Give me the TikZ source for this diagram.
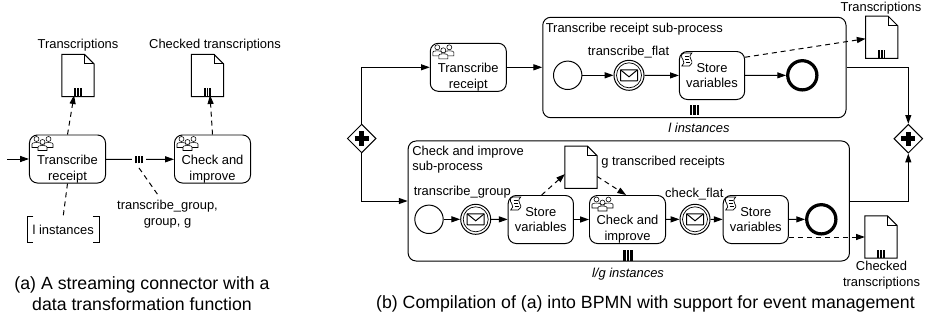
\documentclass[tikz,border=0pt]{standalone}
\usepackage{fontspec}
\setmainfont{Liberation Sans}
\usetikzlibrary{arrows.meta,shapes.geometric}

\newcommand{\mibars}[2][1.45pt]{\rule{#1}{#2}\hspace{0.7pt}\rule{#1}{#2}\hspace{0.7pt}\rule{#1}{#2}}
\newcommand{\iconline}{\rule{0pt}{9.7pt}}
\newcommand{\personicon}[2]{\draw[fill=white,line width=0.4pt] (#1-4.5,#2+8.5) -- (#1-4.5,#2+5) .. controls (#1-4.5,#2+4) and (#1-3,#2+3.5) .. (#1,#2+3.5) .. controls (#1+3,#2+3.5) and (#1+4.5,#2+4) .. (#1+4.5,#2+5) -- (#1+4.5,#2+8.5) -- cycle;
	\draw[fill=white,line width=0.4pt] (#1,#2) circle (2.5);}

\tikzset{
	every node/.style={font=\fontsize{9.2}{11.2}\selectfont},
	line/.style={line width=0.7pt},
	flow/.style={line,-{Triangle[length=2.2mm,width=1.5mm]}},
	msg/.style={flow,dash pattern=on 1.25mm off 1mm},
	assoc/.style={line,dash pattern=on 1.25mm off 1mm},
	task/.style={shape=rectangle,draw=black,line,rounded corners=0.2cm,align=center,inner sep=0pt,minimum width=1.9cm,minimum height=1.2cm},
	storebox/.style={task,minimum width=1.63cm},
	subproc/.style={shape=rectangle,draw=black,line,rounded corners=0.2cm,inner sep=0pt},
	startev/.style={shape=circle,draw=black,line,inner sep=0pt,minimum size=0.71cm},
	catchev/.style={startev,minimum size=0.75cm},
	endev/.style={startev,line width=2.3pt,minimum size=0.73cm},
	gateway/.style={shape=diamond,draw=black,line,fill=white,inner sep=0pt,minimum size=0.72cm},
	docnode/.style={shape=rectangle,inner sep=0pt,minimum width=0.79cm,minimum height=1.04cm},
	caption/.style={font=\fontsize{12.6}{15}\selectfont,align=center},
}

\begin{document}
\begin{tikzpicture}[x=0.025cm,y=-0.025cm]
	\useasboundingbox (0,0) rectangle (925,323);

	% (a)
	\coordinate (inflow) at (7,159);
	\node[task] (taska) at (67.5,159) {\iconline\\Transcribe\\receipt};
	\node[task] (taskb) at (212.5,159) {\iconline\\Check and\\improve};
	\node[inner xsep=2pt,inner ysep=0pt] (mia) at (139,159.5) {\mibars{5.6pt}};
	\node[docnode] (doca) at (78,75.5) {};
	\node[docnode] (docb) at (207.5,75.5) {};
	\node (labela) at (78,45.5) {Transcriptions};
	\node (labelb) at (215,45.5) {Checked transcriptions};
	\node[align=center] (labelg) at (167.5,214) {transcribe\_group,\\group, g};
	\coordinate (labelgtop) at (158,195);
	\node[shape=rectangle,inner sep=0pt,minimum width=1.79cm,minimum height=0.65cm] (annot) at (63.2,229.5) {l instances};
	\node[caption] (capa) at (142,294) {(a) A streaming connector with a\\data transformation function};

	\path[flow] (inflow) edge (taska);
	\path[line] (taska) edge (mia);
	\path[flow] (mia) edge (taskb);
	\path[assoc] ([yshift=-3pt]mia.south) edge (labelgtop);
	\path[assoc] (taska.south) edge (annot.north);
	\path[msg] (taska.north) edge ([xshift=-2.8pt,yshift=1pt]doca.south);
	\path[msg] (taskb.north) edge ([xshift=1.8pt,yshift=1pt]docb.south);
	\draw[line] ([xshift=4.5pt]annot.north west) -- (annot.north west) -- (annot.south west) -- ([xshift=4.5pt]annot.south west);
	\draw[line] ([xshift=-4.5pt]annot.north east) -- (annot.north east) -- (annot.south east) -- ([xshift=-4.5pt]annot.south east);

	% (b)
	\node[gateway] (gwa) at (361.7,138.5) {};
	\node[gateway] (gwb) at (908.3,138.7) {};
	\node[task] (taskc) at (468.3,67.3) {\iconline\\Transcribe\\receipt};

	\node[subproc,minimum width=7.58cm,minimum height=2.51cm] (suba) at (694.4,67.5) {};
	\node[anchor=west,inner sep=0pt] (titlea) at (545.5,29) {Transcribe receipt sub-process};
	\node[startev] (starta) at (567.7,75.3) {};
	\node[catchev] (catcha) at (629,75.3) {};
	\node (flata) at (628.5,52.5) {transcribe\_flat};
	\node[storebox] (storea) at (712,75.5) {Store\\variables};
	\node[endev] (enda) at (802.3,75.3) {};
	\node[inner sep=0pt] (mib) at (694.5,110) {\mibars[1.7pt]{7.1pt}};
	\node (insta) at (699,128) {\textit{l instances}};
	\node[docnode] (docc) at (881.7,37.3) {};
	\node (labelc) at (881,8) {Transcriptions};

	\node[subproc,minimum width=11.03cm,minimum height=3cm] (subb) at (628.8,201) {};
	\node[anchor=north west,align=left,inner sep=0pt] (titleb) at (412,145.5) {Check and improve\\sub-process};
	\node[startev] (startb) at (429,219.3) {};
	\node[catchev] (catchb) at (475.7,219.3) {};
	\node (groupb) at (462.3,192.5) {transcribe\_group};
	\node[storebox] (storeb) at (540.8,219.5) {Store\\variables};
	\node[docnode] (docd) at (581,167.3) {};
	\node[anchor=west,inner sep=0pt] (labeld) at (601,162) {g transcribed receipts};
	\node[task] (taskd) at (627.5,219.5) {\iconline\\Check and\\improve};
	\node[catchev] (catchc) at (695,219.3) {};
	\node (flatb) at (694.3,194) {check\_flat};
	\node[storebox] (storec) at (755.8,219.5) {Store\\variables};
	\node[endev] (endb) at (821.3,219.3) {};
	\node[inner sep=0pt] (mic) at (628,255.5) {\mibars[1.7pt]{7.6pt}};
	\node (instb) at (628,274) {\textit{l/g instances}};
	\node[docnode] (doce) at (881,237) {};
	\node[align=center] (labele) at (881.5,275) {Checked\\transcriptions};
	\node[caption] (capb) at (645.5,304) {(b) Compilation of (a) into BPMN with support for event management};

	\draw[flow] (gwa) |- (taskc);
	\draw[flow] (gwa) |- (subb);
	\draw[flow] (suba) -| (gwb);
	\draw[flow] (subb) -| (gwb);
	\path[flow] (taskc) edge (suba.west |- taskc);
	\path[flow] (starta) edge (catcha);
	\path[flow] (catcha) edge (storea);
	\path[flow] (storea) edge (enda);
	\path[msg] ([yshift=13pt]storea.east) edge ([yshift=-1pt]docc.west);
	\path[flow] (startb) edge (catchb);
	\path[flow] (catchb) edge (storeb);
	\path[flow] (storeb) edge (taskd);
	\path[flow] (taskd) edge (catchc);
	\path[flow] (catchc) edge (storec);
	\path[flow] (storec) edge (endb);
	\path[msg] ([xshift=0.6pt]storeb.north) edge ([yshift=-4.8pt]docd.west);
	\path[msg] ([yshift=-6.5pt]docd.east) edge ([xshift=-1pt]taskd.north);
	\path[msg] (storec.east |- doce.west) edge (doce.west);

	% documents
	\foreach \d in {doca,docb,docc,docd,doce} {
		\draw[line,fill=white] (\d.south west) -- (\d.north west) -- ([xshift=-6.8pt]\d.north east) -- ([yshift=-6.8pt]\d.north east) -- (\d.south east) -- cycle;
		\draw[line] ([xshift=-6.8pt]\d.north east) -- ([xshift=-6.8pt,yshift=-6.8pt]\d.north east) -- ([yshift=-6.8pt]\d.north east);
	}
	\foreach \d in {doca,docb,docc,doce} {
		\node[anchor=south,inner sep=0pt] (\d-mi) at (\d.south) {\mibars[1.2pt]{5.6pt}};
	}

	% user task icons
	\foreach \t in {taska,taskb,taskc,taskd} {
		\begin{scope}[shift={(\t.north west)}]
			\personicon{7.5}{4.5}
			\personicon{19.5}{4.5}
			\personicon{13.5}{7.5}
		\end{scope}
	}

	% script task icons
	\foreach \t in {storea,storeb,storec} {
		\begin{scope}[shift={(\t.north west)},line width=0.5pt]
			\draw (5,2) -- (13,2) .. controls (10.5,5) and (10.5,6) .. (12,8.5) .. controls (14,11) and (13,14) .. (10.5,15) -- (3,15) .. controls (5.5,13) and (5.5,11) .. (4,8.5) .. controls (2,6) and (2,3) .. (5,2);
			\draw (6,5) -- (10.5,5) (6.5,8) -- (10.5,8) (7,11) -- (11.5,11);
		\end{scope}
	}

	% catch events
	\foreach \c in {catcha,catchb,catchc} {
		\draw[line width=0.5pt] (\c) circle (12.5);
		\draw[line,rounded corners=0.3pt] ([shift={(-8.5,-5.5)}]\c.center) rectangle ([shift={(8.5,5.5)}]\c.center);
		\draw[line] ([shift={(-8.5,-5.5)}]\c.center) -- ([shift={(0,1.5)}]\c.center) -- ([shift={(8.5,-5.5)}]\c.center);
	}

	% plus signs
	\foreach \g in {gwa,gwb} {
		\draw[line width=3.2pt] ([xshift=-5pt]\g.center) -- ([xshift=5pt]\g.center);
		\draw[line width=3.2pt] ([yshift=-5pt]\g.center) -- ([yshift=5pt]\g.center);
	}
\end{tikzpicture}
\end{document}
